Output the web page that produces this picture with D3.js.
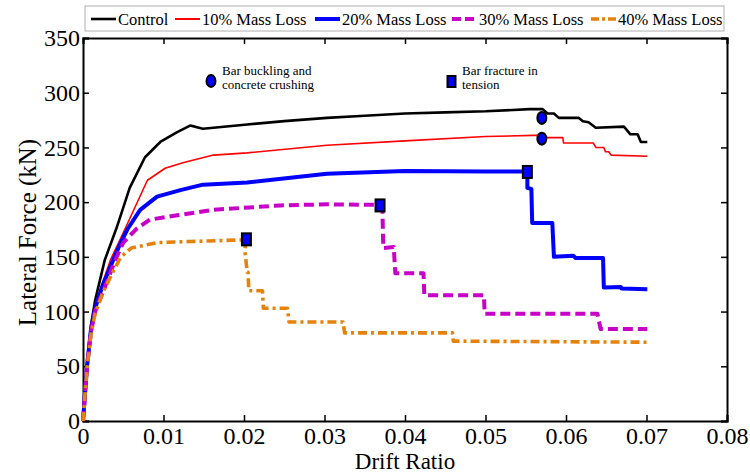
<!DOCTYPE html>
<html>
<head>
<meta charset="utf-8">
<script src="https://cdn.jsdelivr.net/npm/d3@7"></script>
<style>
  html, body { margin: 0; padding: 0; background: #fff; }
  svg text { font-family: "Liberation Serif", "Tinos", "Times New Roman", Times, "DejaVu Serif", serif; }
</style>
</head>
<body>
<svg id="chart" width="750" height="475"></svg>
<script>
// Lateral force vs. drift ratio for columns with increasing corrosion mass loss
const seriesNames = ["Control", "10% Mass Loss", "20% Mass Loss", "30% Mass Loss", "40% Mass Loss"];

// [drift ratio, lateral force kN]
const control = [
  [0,0],[0.0005,52],[0.001,88],[0.0015,110],[0.0027,147],[0.0042,177],[0.0058,213],
  [0.0077,241],[0.0096,255],[0.0117,264],[0.0133,270],[0.0139,269],[0.0149,267],
  [0.0162,268],[0.0204,271],[0.025,274],[0.0303,277],[0.035,279],[0.04,281],[0.045,282],
  [0.05,283],[0.0555,285],[0.0571,285],[0.0577,281],[0.0585,281],[0.0591,277],
  [0.0616,277],[0.0621,274],[0.0628,273],[0.0637,268],[0.0672,269],[0.0680,262],
  [0.0689,262],[0.0693,255],[0.0701,255]
];
const loss10 = [
  [0,0],[0.0005,50],[0.001,86],[0.0015,106],[0.0025,128],[0.0034,147],[0.005,172],
  [0.0065,196],[0.008,220],[0.0102,231],[0.0124,236],[0.0162,243],[0.0204,245],
  [0.0303,252],[0.04,256],[0.05,260],[0.056,261],[0.0571,261],[0.0577,259],
  [0.0596,259],[0.0597,254],[0.0634,254],[0.0637,250],[0.0647,250],[0.0649,246],
  [0.0653,246],[0.0656,243],[0.0701,242]
];
const loss20 = [
  [0,0],[0.0005,50],[0.001,84],[0.0015,103],[0.0025,125],[0.0034,141],[0.0045,160],
  [0.0055,175],[0.0071,193],[0.0092,205],[0.0121,211],[0.0149,216],[0.0204,218],
  [0.0303,226],[0.04,228.5],[0.05,228],[0.0551,228],[0.0552,222],[0.0552,213],
  [0.0557,212],[0.0558,181],[0.0583,181],[0.0585,150],[0.0609,151],[0.0612,149],
  [0.0646,149],[0.0647,122],[0.0668,122.5],[0.0669,121],[0.0701,120.5]
];
const loss30 = [
  [0,0],[0.0005,50],[0.001,82],[0.0015,100],[0.0027,122],[0.004,147],[0.005,163],
  [0.0067,176],[0.0083,184],[0.0117,188],[0.0162,193],[0.0245,197],[0.0303,198],
  [0.0368,197.5],[0.0372,191],[0.0373,158],[0.0386,159],[0.0388,135],[0.0423,135],
  [0.0424,115],[0.0498,115],[0.0499,98],[0.0639,98],[0.0643,84],[0.0701,84]
];
const loss40 = [
  [0,0],[0.0005,48],[0.001,80],[0.0015,98],[0.0025,118],[0.0035,133],[0.0047,150],
  [0.006,158],[0.0092,163],[0.0133,164],[0.0199,165.5],[0.0203,166],[0.0201,156],
  [0.0204,136],[0.0205,136],[0.0206,119],[0.0223,119],[0.0224,103],[0.0254,103],
  [0.0256,90.5],[0.0323,90.5],[0.0325,80.5],[0.0459,80.5],[0.0460,73],[0.0701,72]
];

// Failure markers: bar buckling (ellipse) and bar fracture (rectangle)
const bucklingPoints = [[0.057, 277], [0.057, 258]];
const fracturePoints = [[0.0552, 227.6], [0.0369, 197], [0.0203, 166]];

const xTicks = [0, 0.01, 0.02, 0.03, 0.04, 0.05, 0.06, 0.07, 0.08];
const yTicks = [0, 50, 100, 150, 200, 250, 300, 350];

const styles = [
  { color: "#000000", width: 2.6, dash: null },
  { color: "#ff0000", width: 1.6, dash: null },
  { color: "#0000ff", width: 4, dash: null },
  { color: "#c800c8", width: 4, dash: "10,5" },
  { color: "#e5820c", width: 3.6, dash: "9,4,3,4" }
];
const data = [control, loss10, loss20, loss30, loss40];

const svg = d3.select("#chart");
const m = { left: 83, right: 727, top: 38, bottom: 421 };

const x = d3.scaleLinear().domain([0, 0.08]).range([m.left, m.right]);
const y = d3.scaleLinear().domain([0, 350]).range([m.bottom, m.top]);

// Plot frame with inward ticks on all four sides
const axisG = svg.append("g");
const bottomAxis = d3.axisBottom(x).tickValues(xTicks).tickSize(-6).tickPadding(6)
  .tickFormat(d => d === 0 ? "0" : d3.format(".2f")(d));
axisG.append("g").attr("transform", `translate(0,${m.bottom})`).call(bottomAxis)
  .call(g => g.selectAll("text").attr("font-size", 24).attr("dy", "0.71em"));
const topAxis = d3.axisTop(x).tickValues(xTicks).tickSize(-6).tickFormat("");
axisG.append("g").attr("transform", `translate(0,${m.top})`).call(topAxis);
const leftAxis = d3.axisLeft(y).tickValues(yTicks).tickSize(-6).tickPadding(3);
axisG.append("g").attr("transform", `translate(${m.left},0)`).call(leftAxis)
  .call(g => g.selectAll("text").attr("font-size", 24));
const rightAxis = d3.axisRight(y).tickValues(yTicks).tickSize(-6).tickFormat("");
axisG.append("g").attr("transform", `translate(${m.right},0)`).call(rightAxis);

axisG.selectAll(".domain").attr("stroke", "#000").attr("stroke-width", 2);
axisG.selectAll(".tick line").attr("stroke", "#000").attr("stroke-width", 1.5);
axisG.selectAll("text").attr("fill", "#000");

// Axis titles
svg.append("text").attr("x", (m.left + m.right) / 2).attr("y", 469)
  .attr("text-anchor", "middle").attr("font-size", 23).text("Drift Ratio");
svg.append("text").attr("transform", `translate(36,${(m.top + m.bottom) / 2 + 3}) rotate(-90)`)
  .attr("text-anchor", "middle").attr("font-size", 25).text("Lateral Force (kN)");

// Curves
const line = d3.line().x(d => x(d[0])).y(d => y(d[1]));
const plot = svg.append("g");
data.forEach((series, i) => {
  const s = styles[i];
  plot.append("path").datum(series)
    .attr("d", line)
    .attr("fill", "none")
    .attr("stroke", s.color)
    .attr("stroke-width", s.width)
    .attr("stroke-linejoin", "round")
    .attr("stroke-dasharray", s.dash);
});

// Markers
plot.selectAll(".buckle").data(bucklingPoints).enter().append("ellipse")
  .attr("cx", d => x(d[0])).attr("cy", d => y(d[1]))
  .attr("rx", 4.5).attr("ry", 6)
  .attr("fill", "#0000ff").attr("stroke", "#000").attr("stroke-width", 2);
plot.selectAll(".fracture").data(fracturePoints).enter().append("rect")
  .attr("x", d => x(d[0]) - 4.5).attr("y", d => y(d[1]) - 6)
  .attr("width", 9).attr("height", 12)
  .attr("fill", "#0000ff").attr("stroke", "#000").attr("stroke-width", 2);

// Marker key inside the plot
const key = svg.append("g").attr("font-size", 13);
key.append("ellipse").attr("cx", 211).attr("cy", 81).attr("rx", 4.5).attr("ry", 6)
  .attr("fill", "#0000ff").attr("stroke", "#000").attr("stroke-width", 2);
key.append("text").attr("x", 222).attr("y", 75).text("Bar buckling and");
key.append("text").attr("x", 222).attr("y", 89).text("concrete crushing");
key.append("rect").attr("x", 447.5).attr("y", 76).attr("width", 8).attr("height", 11)
  .attr("fill", "#0000ff").attr("stroke", "#000").attr("stroke-width", 2);
key.append("text").attr("x", 462).attr("y", 75).text("Bar fracture in");
key.append("text").attr("x", 462).attr("y", 89).text("tension");

// Legend box across the top
const legend = svg.append("g");
legend.append("rect").attr("x", 85).attr("y", 6).attr("width", 639).attr("height", 25)
  .attr("fill", "#fff").attr("stroke", "#b0b0b0").attr("stroke-width", 1);
const legendX = [91, 175, 315, 452, 591];
seriesNames.forEach((name, i) => {
  const s = styles[i];
  const lx = legendX[i];
  legend.append("line").attr("x1", lx).attr("x2", lx + 25).attr("y1", 19).attr("y2", 19)
    .attr("stroke", s.color).attr("stroke-width", Math.max(s.width, 2))
    .attr("stroke-dasharray", s.dash ? (i === 3 ? "9,4" : "8,3,3,3") : null);
  legend.append("text").attr("x", lx + 27).attr("y", 25).attr("font-size", 16.5).text(name);
});
</script>
</body>
</html>
